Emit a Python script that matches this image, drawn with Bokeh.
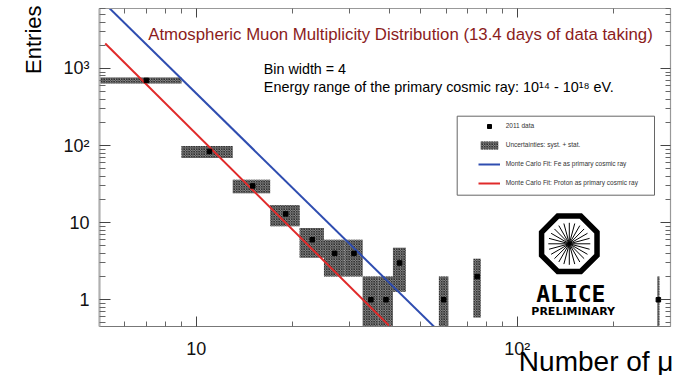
import numpy as np
from bokeh.plotting import figure
from bokeh.models import (ColumnDataSource, LogAxis, FixedTicker, Label, Legend,
                          LegendItem, BoxAnnotation, Range1d, Title)
from bokeh.embed import file_html
from bokeh.resources import INLINE

# Muon multiplicity histogram: bins of width 4
bin_lo = [5, 9, 13, 17, 21, 25, 29, 33, 37, 41, 57, 73, 273]
bin_hi = [9, 13, 17, 21, 25, 29, 33, 37, 41, 45, 61, 77, 277]
bin_center = [7, 11, 15, 19, 23, 27, 31, 35, 39, 43, 59, 75, 275]
entries = [700, 84, 30, 13, 6, 4, 4, 1, 1, 3, 1, 2, 1]
uncert = [63, 15, 6, 4, 2.5, 2, 2, 1, 1, 1.73, 1, 1.41, 1]

# Monte Carlo power-law fits (straight lines in log-log), end points
fe_x = [5.2, 60]
fe_y = [6900, 0.315]
proton_x = [5.21, 45]
proton_y = [2113, 0.28]

x_major = [10, 100]
y_major = [1, 10, 100, 1000]
x_labels = {10: "10", 100: "10\u00b2"}
y_labels = {1: "1", 10: "10", 100: "10\u00b2", 1000: "10\u00b3"}

X0, X1 = 5, 300
Y0, Y1 = 0.45, 6000

# frame geometry in pixels (used for placing annotations)
W, H = 676, 375
FL, FR, FT, FB = 99, 670, 8, 326


def sx(px):
    return float(10 ** (np.log10(X0) + (px - FL) / (FR - FL) * np.log10(X1 / X0)))


def sy(py):
    return float(10 ** (np.log10(Y0) + (FB - py) / (FB - FT) * np.log10(Y1 / Y0)))


p = figure(width=W, height=H, x_axis_type="log", y_axis_type="log",
           x_range=Range1d(X0, X1), y_range=Range1d(Y0, Y1),
           output_backend="svg", toolbar_location=None,
           min_border_left=FL, min_border_right=W - FR,
           min_border_top=FT, min_border_bottom=H - FB)
p.xgrid.visible = False
p.ygrid.visible = False
p.outline_line_color = None
p.background_fill_color = "white"
p.border_fill_color = "white"

x_minor = [5, 6, 7, 8, 9] + [k * 10 for k in range(2, 10)] + [200, 300]
y_minor = ([k / 10 for k in range(4, 10)] + list(range(2, 10)) +
           [k * 10 for k in range(2, 10)] + [k * 100 for k in range(2, 10)] +
           [k * 1000 for k in range(2, 7)])
xt = FixedTicker(ticks=x_major, minor_ticks=x_minor)
yt = FixedTicker(ticks=y_major, minor_ticks=y_minor)


def style_axis(ax, ticker, major_in, minor_in, line_color, line_width):
    ax.ticker = ticker
    ax.major_tick_in = major_in
    ax.major_tick_out = 0
    ax.minor_tick_in = minor_in
    ax.minor_tick_out = 0
    ax.axis_line_color = line_color
    ax.axis_line_width = line_width
    ax.major_tick_line_color = "#444444"
    ax.minor_tick_line_color = "#666666"
    ax.major_label_text_font = "Liberation Sans"
    ax.major_label_text_font_size = "18px"
    ax.major_label_text_color = "#111111"


xa = p.xaxis[0]
style_axis(xa, xt, 10, 5, "#777777", 1.2)
xa.major_label_overrides = x_labels
xa.major_label_standoff = 12

ya = p.yaxis[0]
style_axis(ya, yt, 11, 6, "#b0b0b0", 2.2)
ya.major_label_overrides = y_labels
ya.major_label_standoff = 10

# mirrored tick marks on the top and right edges, no labels
top_ax = LogAxis()
style_axis(top_ax, xt, 9, 5, "#999999", 1.2)
top_ax.major_label_text_font_size = "1px"
top_ax.major_label_text_alpha = 0
top_ax.major_label_standoff = 0
p.add_layout(top_ax, "above")

right_ax = LogAxis()
style_axis(right_ax, yt, 10, 5, "#999999", 1.2)
right_ax.major_label_text_font_size = "1px"
right_ax.major_label_text_alpha = 0
right_ax.major_label_standoff = 0
p.add_layout(right_ax, "right")

# axis titles, aligned to the far end of each axis
y_title = Title(text="Entries", align="right", text_font="Liberation Sans",
                text_font_size="22px", text_font_style="normal", text_color="black",
                offset=-3)
y_title.standoff = 29
p.add_layout(y_title, "left")

x_title = Title(text="Number of \u03bc", align="right", vertical_align="top",
                text_font="Liberation Sans", text_font_size="28px",
                text_font_style="normal", text_color="black", offset=-3)
try:
    x_title.standoff = -32
except ValueError:
    x_title.standoff = 0
p.add_layout(x_title, "below")

# data with systematic + statistical uncertainty boxes
upper = [v + e for v, e in zip(entries, uncert)]
lower = [max(v - e, 0.1) for v, e in zip(entries, uncert)]
src = ColumnDataSource(dict(left=bin_lo, right=bin_hi, x=bin_center, y=entries,
                            top=upper, bottom=lower))

boxes = p.quad(left="left", right="right", top="top", bottom="bottom", source=src,
               fill_color="#8a8a8a", line_color=None,
               hatch_pattern="diagonal_cross", hatch_color="#262626",
               hatch_scale=2.5, hatch_weight=0.8)
fe = p.line(fe_x, fe_y, line_color="#2f4db0", line_width=2)
pr = p.line(proton_x, proton_y, line_color="#e02a2a", line_width=2)
pts = p.scatter("x", "y", source=src, marker="square", size=4.5, color="black")

# legend frame
p.add_layout(BoxAnnotation(left=sx(456.7), right=sx(654), top=sy(115.7), bottom=sy(194.7),
                           fill_color="white", fill_alpha=1.0,
                           line_color="#666666", line_width=1, line_alpha=1.0))

legend = Legend(items=[
    LegendItem(label="2011 data", renderers=[pts]),
    LegendItem(label="Uncertainties: syst. + stat.", renderers=[boxes]),
    LegendItem(label="Monte Carlo Fit: Fe as primary cosmic ray", renderers=[fe]),
    LegendItem(label="Monte Carlo Fit: Proton as primary cosmic ray", renderers=[pr]),
], location=(477.7 - FL, FB - 187.7), padding=0, margin=0, spacing=9,
    glyph_width=22, glyph_height=10, label_height=10, label_standoff=6,
    label_text_font_size="6.5px", label_text_font="Liberation Sans",
    label_text_color="#333333", border_line_alpha=0, background_fill_alpha=0)
p.add_layout(legend)


def add_text(px, py, text, size, color="black", font="Liberation Sans",
             align="left", style="normal"):
    p.add_layout(Label(x=sx(px), y=sy(py), text=text, text_font_size=f"{size}px",
                       text_color=color, text_font=font, text_align=align,
                       text_baseline="alphabetic", text_font_style=style))


add_text(147.7, 34.3,
         "Atmospheric Muon Multiplicity Distribution (13.4 days of data taking)",
         16.8, color="#8b1c1c")
add_text(263.3, 68.3, "Bin width = 4", 14.3)
add_text(263.3, 86.7,
         "Energy range of the primary cosmic ray: 10\u00b9\u2074 - 10\u00b9\u2078 eV.", 14.4)

# ALICE logo: octagon with radial spokes
cx, cy, R = 568.8, 243.3, 30.0
ang = np.deg2rad(22.5 + 45 * np.arange(8))
p.patch([sx(cx + R * np.cos(a)) for a in ang], [sy(cy - R * np.sin(a)) for a in ang],
        fill_color=None, line_color="black", line_width=5.5, line_join="miter")
n_spokes = 24
p.ray(x=[sx(cx)] * n_spokes, y=[sy(cy)] * n_spokes, length=21, length_units="screen",
      angle=[float(a) for a in np.linspace(0, 2 * np.pi, n_spokes, endpoint=False)],
      line_color="black", line_width=1)
add_text(570.3, 293.3, "ALICE", 23, font="DejaVu Sans Mono", style="bold", align="center")
add_text(572.7, 310.5, "PRELIMINARY", 11, font="DejaVu Sans", style="bold", align="center")

open("out.html", "w").write(file_html(p, INLINE))
